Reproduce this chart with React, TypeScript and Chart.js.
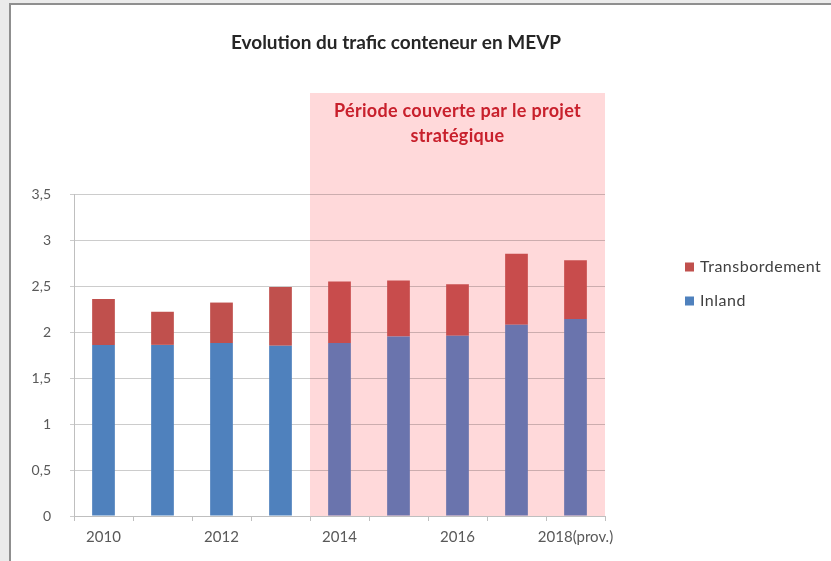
import React, { useEffect, useRef } from "react";
import { Chart, registerables } from "chart.js";

Chart.register(...registerables);

const TITLE = "Evolution du trafic conteneur en MEVP";
const PERIOD_TEXT = ["Période couverte par le projet", "stratégique"];
const categories = ["2010", "2011", "2012", "2013", "2014", "2015", "2016", "2017", "2018(prov.)"];
const inland = [1.86, 1.86, 1.88, 1.85, 1.88, 1.95, 1.96, 2.08, 2.14];
const transbordement = [0.5, 0.36, 0.44, 0.64, 0.67, 0.61, 0.56, 0.77, 0.64];
const periodStartIndex = 4; // 2014
const yTicks = [0, 0.5, 1, 1.5, 2, 2.5, 3, 3.5];

const BLUE = "#4f81bd";
const BLUE_IN_PERIOD = "#6a74ad";
const RED = "#c0504d";
const RED_IN_PERIOD = "#c84c4c";
const PINK = "#ffd9da";
const FONT = "Lato, 'Open Sans', sans-serif";

const colorsFor = (base: string, inPeriod: string) =>
  categories.map((_, i) => (i >= periodStartIndex ? inPeriod : base));

const decorPlugin = {
  id: "decor",
  beforeDraw(chart: any) {
    const { ctx, chartArea, scales } = chart;
    const x0 = scales.x.getPixelForValue(periodStartIndex - 0.5);
    const x1 = chartArea.right;
    const top = chartArea.top - 101;
    ctx.save();
    ctx.fillStyle = PINK;
    ctx.fillRect(x0, top, x1 - x0, chartArea.bottom - top);
    ctx.restore();
  },
  afterDraw(chart: any) {
    const { ctx, chartArea, scales } = chart;
    const x0 = scales.x.getPixelForValue(periodStartIndex - 0.5);
    const x1 = chartArea.right;
    const cx = (x0 + x1) / 2;
    ctx.save();
    // period text
    ctx.fillStyle = "#c8202c";
    ctx.font = `bold 18px ${FONT}`;
    ctx.textAlign = "center";
    ctx.textBaseline = "middle";
    (ctx as any).letterSpacing = "0.3px";
    ctx.fillText(PERIOD_TEXT[0], cx, chartArea.top - 83);
    ctx.fillText(PERIOD_TEXT[1], cx, chartArea.top - 58);
    // title
    ctx.fillStyle = "#262626";
    ctx.font = `bold 19px ${FONT}`;
    (ctx as any).letterSpacing = "0px";
    ctx.fillText(TITLE, 396, 43);
    // legend (reverse order, as in stacked display)
    const ds = [...chart.data.datasets].reverse();
    ctx.font = `16px ${FONT}`;
    (ctx as any).letterSpacing = "0.5px";
    ctx.textAlign = "left";
    ds.forEach((d: any, i: number) => {
      const y = 267 + i * 34;
      ctx.fillStyle = Array.isArray(d.backgroundColor) ? d.backgroundColor[0] : d.backgroundColor;
      ctx.fillRect(685, y - 4.5, 9, 9);
      ctx.fillStyle = "#404040";
      ctx.fillText(d.label, 700, y);
    });
    ctx.restore();
  },
};

export default function App() {
  const ref = useRef<HTMLCanvasElement | null>(null);
  useEffect(() => {
    document.body.style.margin = "0";
    const canvas = ref.current!;
    const chart = new Chart(canvas, {
      type: "bar",
      data: {
        labels: categories,
        datasets: [
          {
            label: "Inland",
            data: inland,
            backgroundColor: colorsFor(BLUE, BLUE_IN_PERIOD),
            stack: "s",
            barPercentage: 0.385,
            categoryPercentage: 1,
          },
          {
            label: "Transbordement",
            data: transbordement,
            backgroundColor: colorsFor(RED, RED_IN_PERIOD),
            stack: "s",
            barPercentage: 0.385,
            categoryPercentage: 1,
          },
        ],
      },
      options: {
        responsive: false,
        animation: false,
        devicePixelRatio: 1,
        layout: { padding: { left: 24, top: 194, right: 226, bottom: 0 } },
        plugins: {
          legend: { display: false },
          title: { display: false },
          tooltip: { enabled: false },
        },
        scales: {
          x: {
            stacked: true,
            offset: true,
            afterFit: (s: any) => {
              s.height = 45;
            },
            grid: {
              display: true,
              drawOnChartArea: false,
              drawTicks: true,
              tickLength: 5,
              offset: true,
              color: "#bfbfbf",
            },
            border: { display: true, color: "#bfbfbf" },
            ticks: {
              autoSkip: false,
              maxRotation: 0,
              padding: 7,
              color: "#595959",
              font: { family: FONT, size: 15 },
              callback: function (this: any, val: any, idx: number) {
                return idx % 2 === 0 ? this.getLabelForValue(val) : "";
              },
            },
          },
          y: {
            stacked: true,
            min: 0,
            max: 3.5,
            afterFit: (s: any) => {
              s.width = 50;
            },
            afterBuildTicks: (s: any) => {
              s.ticks = yTicks.map((v) => ({ value: v }));
            },
            grid: {
              color: "rgba(0,0,0,0.2)",
              drawTicks: true,
              tickLength: 4,
            },
            border: { display: true, color: "#bfbfbf" },
            ticks: {
              padding: 19,
              color: "#595959",
              font: { family: FONT, size: 14 },
              callback: (v: any) => String(v).replace(".", ","),
            },
          },
        },
      },
      plugins: [decorPlugin],
    });
    return () => chart.destroy();
  }, []);

  return (
    <div style={{ position: "fixed", left: 0, top: 0, width: 831, height: 561, background: "#ebebeb", overflow: "hidden" }}>
      <div
        style={{
          position: "absolute",
          left: 9,
          top: 3,
          right: 0,
          bottom: 0,
          background: "#ffffff",
          borderLeft: "2px solid #8f8f8f",
          borderTop: "2px solid #8f8f8f",
        }}
      />
      <canvas
        ref={ref}
        width={831}
        height={561}
        style={{ position: "absolute", left: 0, top: 0, width: 831, height: 561 }}
      />
    </div>
  );
}
